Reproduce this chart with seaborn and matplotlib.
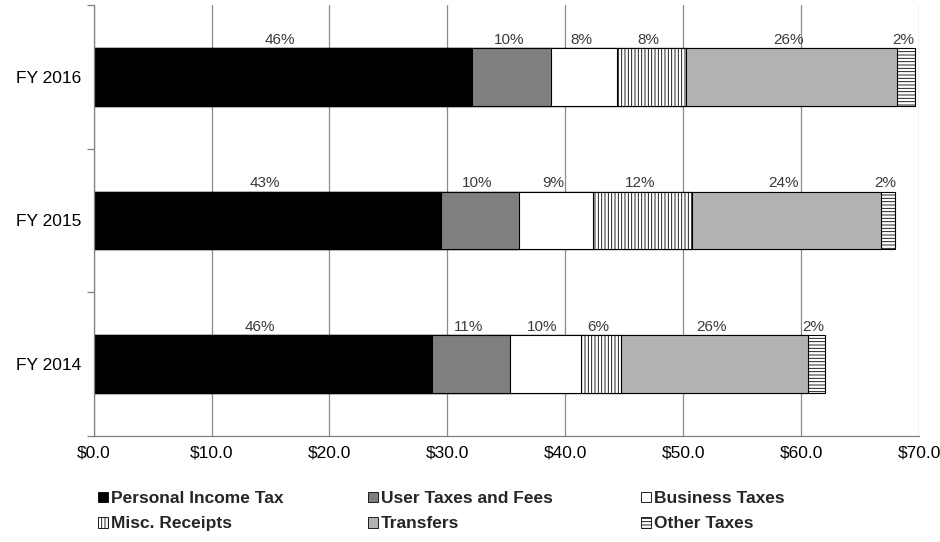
import matplotlib
matplotlib.use("Agg")
import matplotlib.pyplot as plt
import numpy as np
import pandas as pd
import seaborn as sns
from matplotlib.patches import Patch
from matplotlib.ticker import FixedLocator

# Revenue by source, $ billions
years = ["FY 2016", "FY 2015", "FY 2014"]
sources = ["Personal Income Tax", "User Taxes and Fees", "Business Taxes",
           "Misc. Receipts", "Transfers", "Other Taxes"]
personal_income_tax = [32.07, 29.45, 28.70]
user_taxes_fees = [6.73, 6.64, 6.60]
business_taxes = [5.59, 6.25, 6.00]
misc_receipts = [5.85, 8.40, 3.45]
transfers = [17.85, 16.00, 15.85]
other_taxes = [1.55, 1.19, 1.41]
x_ticks = [0, 10, 20, 30, 40, 50, 60, 70]

values = [personal_income_tax, user_taxes_fees, business_taxes,
          misc_receipts, transfers, other_taxes]

# fill colour and hatch per source
styles = {
    "Personal Income Tax": ("#000000", ""),
    "User Taxes and Fees": ("#7f7f7f", ""),
    "Business Taxes": ("#ffffff", ""),
    "Misc. Receipts": ("#ffffff", "|||||"),
    "Transfers": ("#b2b2b2", ""),
    "Other Taxes": ("#ffffff", "-----"),
}

sns.set_theme(style="white")
plt.rcParams["font.family"] = ["Liberation Sans", "DejaVu Sans"]
plt.rcParams["hatch.linewidth"] = 0.6

df = pd.DataFrame({"year": years})
for name, vals in zip(sources, values):
    df[name] = vals
df["total"] = df[sources].sum(axis=1)
cum = df[sources].cumsum(axis=1)

fig = plt.figure(figsize=(9.4, 5.42), dpi=100)
ax = fig.add_axes([0.0996, 0.1956, 0.9777 - 0.0996, 0.9908 - 0.1956])

# stacked bars: draw cumulative totals from the outermost segment inwards
for name in reversed(sources):
    color, hatch = styles[name]
    sns.barplot(x=cum[name], y=df["year"], order=years, orient="h",
                color=color, saturation=1, width=0.4, edgecolor="black",
                linewidth=0.8, hatch=hatch, ax=ax)

# share labels above each segment
for i, year in enumerate(years):
    left = 0.0
    total = df.loc[i, "total"]
    for name in sources:
        v = df.loc[i, name]
        pct = int(round(v / total * 100))
        ax.annotate(f"{pct}%", xy=(left + v / 2, i - 0.2), xytext=(-2, 1),
                    textcoords="offset points", ha="center", va="bottom",
                    fontsize=11, color="#3a3a3a")
        left += v

ax.set_xlim(0, 70)
ax.set_ylim(2.5, -0.5)
ax.xaxis.set_major_locator(FixedLocator(x_ticks))
ax.set_xticklabels([f"${t:.1f}" for t in x_ticks])
ax.set_xlabel("")
ax.set_ylabel("")
ax.grid(axis="x", color="#8c8c8c", linewidth=0.9)
ax.grid(axis="y", visible=False)
ax.set_axisbelow(True)

ax.yaxis.set_minor_locator(FixedLocator([-0.5, 0.5, 1.5, 2.5]))
ax.tick_params(axis="y", which="major", length=0, pad=9, labelsize=12.5,
               labelcolor="black")
ax.tick_params(axis="y", which="minor", left=True, length=5, width=0.9,
               color="#808080")
ax.tick_params(axis="x", which="major", length=0, pad=7, labelsize=12.5,
               labelcolor="black")

for s in ("top", "right"):
    ax.spines[s].set_visible(False)
ax.spines["left"].set_color("#808080")
ax.spines["bottom"].set_color("#808080")
ax.spines["left"].set_linewidth(0.9)
ax.spines["bottom"].set_linewidth(0.9)

# legend: three columns of two entries each
columns = [(98, ["Personal Income Tax", "Misc. Receipts"]),
           (368, ["User Taxes and Fees", "Transfers"]),
           (641, ["Business Taxes", "Other Taxes"])]
for xpix, names in columns:
    handles = [Patch(facecolor=styles[n][0], hatch=styles[n][1],
                     edgecolor="black", linewidth=0.6, label=n) for n in names]
    fig.legend(handles=handles, loc="upper left",
               bbox_to_anchor=(xpix / 940, 1 - 491 / 542),
               frameon=False, ncol=1, borderpad=0, borderaxespad=0,
               handlelength=0.55, handleheight=0.55, handletextpad=0.2,
               labelspacing=0.6,
               prop={"family": ["Liberation Sans", "DejaVu Sans"],
                     "weight": "bold", "size": 12.5})

fig.savefig("out.png", dpi=100)
